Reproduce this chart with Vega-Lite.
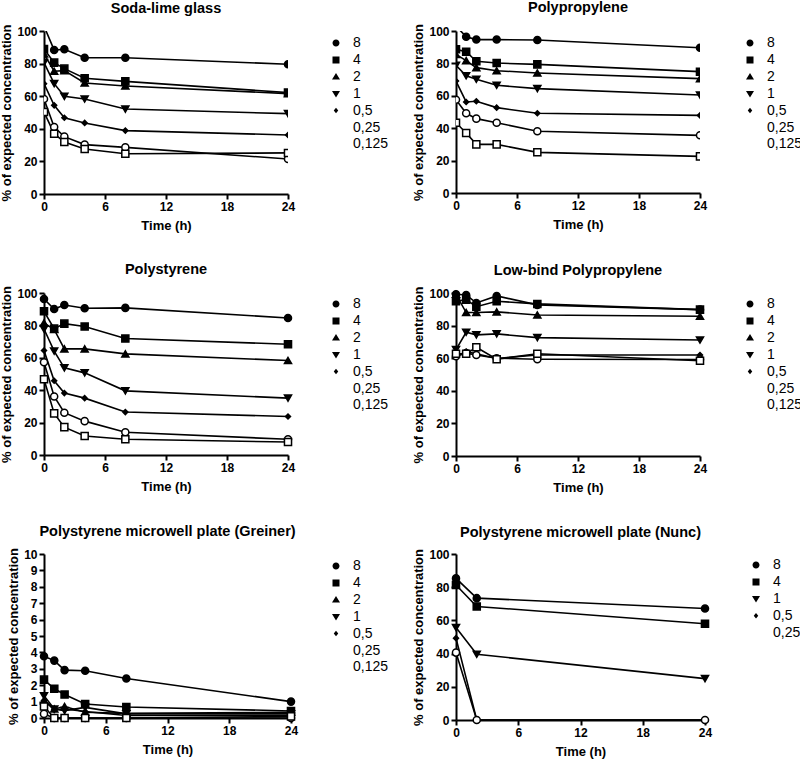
{
  "$schema": "https://vega.github.io/schema/vega-lite/v6.json",
  "padding": {"left": 0, "top": 0, "right": 5, "bottom": 5},
  "config": {
    "view": {"stroke": null},
    "font": "Liberation Sans",
    "axis": {"grid": false, "domainColor": "black", "domainWidth": 2, "tickColor": "black", "tickWidth": 2, "tickSize": 5, "labelFont": "Liberation Sans", "labelFontSize": 12, "labelFontWeight": "bold", "labelColor": "black", "labelFlush": false, "labelPadding": 2, "titleFont": "Liberation Sans", "titleFontSize": 13, "titleFontWeight": "bold", "titleColor": "black"},
    "axisY": {"titlePadding": 3},
    "axisX": {"titlePadding": 7},
    "title": {"font": "Liberation Sans", "fontSize": 14.5, "fontWeight": "bold", "color": "black", "anchor": "middle", "offset": 8},
    "legend": {"labelFont": "Liberation Sans", "labelFontSize": 14, "labelColor": "black", "rowPadding": 2.9, "labelOffset": 10, "symbolSize": 100, "padding": 0, "symbolStrokeWidth": 1.6, "symbolStrokeColor": "black"}
  },
  "data": {"values": [
    {"m":"Soda-lime glass","c":"8","t":0,"v":103},{"m":"Soda-lime glass","c":"8","t":1,"v":88.3},{"m":"Soda-lime glass","c":"8","t":2,"v":88.8},{"m":"Soda-lime glass","c":"8","t":4,"v":83.6},{"m":"Soda-lime glass","c":"8","t":8,"v":83.6},{"m":"Soda-lime glass","c":"8","t":24,"v":79.6},
    {"m":"Soda-lime glass","c":"4","t":0,"v":89},{"m":"Soda-lime glass","c":"4","t":1,"v":80.6},{"m":"Soda-lime glass","c":"4","t":2,"v":76.9},{"m":"Soda-lime glass","c":"4","t":4,"v":71},{"m":"Soda-lime glass","c":"4","t":8,"v":69.1},{"m":"Soda-lime glass","c":"4","t":24,"v":62.2},
    {"m":"Soda-lime glass","c":"2","t":0,"v":86},{"m":"Soda-lime glass","c":"2","t":1,"v":75.3},{"m":"Soda-lime glass","c":"2","t":2,"v":75.7},{"m":"Soda-lime glass","c":"2","t":4,"v":68.1},{"m":"Soda-lime glass","c":"2","t":8,"v":66.3},{"m":"Soda-lime glass","c":"2","t":24,"v":61.6},
    {"m":"Soda-lime glass","c":"1","t":0,"v":80.6},{"m":"Soda-lime glass","c":"1","t":1,"v":67.7},{"m":"Soda-lime glass","c":"1","t":2,"v":59.9},{"m":"Soda-lime glass","c":"1","t":4,"v":58.3},{"m":"Soda-lime glass","c":"1","t":8,"v":52.1},{"m":"Soda-lime glass","c":"1","t":24,"v":49.3},
    {"m":"Soda-lime glass","c":"0,5","t":0,"v":67.7},{"m":"Soda-lime glass","c":"0,5","t":1,"v":54.4},{"m":"Soda-lime glass","c":"0,5","t":2,"v":46.8},{"m":"Soda-lime glass","c":"0,5","t":4,"v":43.6},{"m":"Soda-lime glass","c":"0,5","t":8,"v":38.9},{"m":"Soda-lime glass","c":"0,5","t":24,"v":36.2},
    {"m":"Soda-lime glass","c":"0,25","t":0,"v":58.3},{"m":"Soda-lime glass","c":"0,25","t":1,"v":41.1},{"m":"Soda-lime glass","c":"0,25","t":2,"v":35.2},{"m":"Soda-lime glass","c":"0,25","t":4,"v":30.3},{"m":"Soda-lime glass","c":"0,25","t":8,"v":28.6},{"m":"Soda-lime glass","c":"0,25","t":24,"v":21.5},
    {"m":"Soda-lime glass","c":"0,125","t":0,"v":50.3},{"m":"Soda-lime glass","c":"0,125","t":1,"v":37},{"m":"Soda-lime glass","c":"0,125","t":2,"v":31.9},{"m":"Soda-lime glass","c":"0,125","t":4,"v":27.6},{"m":"Soda-lime glass","c":"0,125","t":8,"v":24.7},{"m":"Soda-lime glass","c":"0,125","t":24,"v":25.2},

    {"m":"Polypropylene","c":"8","t":0,"v":103},{"m":"Polypropylene","c":"8","t":1,"v":96.5},{"m":"Polypropylene","c":"8","t":2,"v":94.7},{"m":"Polypropylene","c":"8","t":4,"v":94.7},{"m":"Polypropylene","c":"8","t":8,"v":94.4},{"m":"Polypropylene","c":"8","t":24,"v":89.7},
    {"m":"Polypropylene","c":"4","t":0,"v":88.7},{"m":"Polypropylene","c":"4","t":1,"v":87.2},{"m":"Polypropylene","c":"4","t":2,"v":81.3},{"m":"Polypropylene","c":"4","t":4,"v":80.2},{"m":"Polypropylene","c":"4","t":8,"v":79.4},{"m":"Polypropylene","c":"4","t":24,"v":74.9},
    {"m":"Polypropylene","c":"2","t":0,"v":85.6},{"m":"Polypropylene","c":"2","t":1,"v":81.7},{"m":"Polypropylene","c":"2","t":2,"v":77.4},{"m":"Polypropylene","c":"2","t":4,"v":75.5},{"m":"Polypropylene","c":"2","t":8,"v":74.1},{"m":"Polypropylene","c":"2","t":24,"v":70.6},
    {"m":"Polypropylene","c":"1","t":0,"v":78.8},{"m":"Polypropylene","c":"1","t":1,"v":72.4},{"m":"Polypropylene","c":"1","t":2,"v":70.2},{"m":"Polypropylene","c":"1","t":4,"v":66.5},{"m":"Polypropylene","c":"1","t":8,"v":64.4},{"m":"Polypropylene","c":"1","t":24,"v":60.5},
    {"m":"Polypropylene","c":"0,5","t":0,"v":69.1},{"m":"Polypropylene","c":"0,5","t":1,"v":56.2},{"m":"Polypropylene","c":"0,5","t":2,"v":56.6},{"m":"Polypropylene","c":"0,5","t":4,"v":52.7},{"m":"Polypropylene","c":"0,5","t":8,"v":49.2},{"m":"Polypropylene","c":"0,5","t":24,"v":47.9},
    {"m":"Polypropylene","c":"0,25","t":0,"v":57.6},{"m":"Polypropylene","c":"0,25","t":1,"v":49.2},{"m":"Polypropylene","c":"0,25","t":2,"v":45.9},{"m":"Polypropylene","c":"0,25","t":4,"v":43.4},{"m":"Polypropylene","c":"0,25","t":8,"v":38.1},{"m":"Polypropylene","c":"0,25","t":24,"v":35.6},
    {"m":"Polypropylene","c":"0,125","t":0,"v":43.4},{"m":"Polypropylene","c":"0,125","t":1,"v":37},{"m":"Polypropylene","c":"0,125","t":2,"v":30},{"m":"Polypropylene","c":"0,125","t":4,"v":30},{"m":"Polypropylene","c":"0,125","t":8,"v":25.1},{"m":"Polypropylene","c":"0,125","t":24,"v":22.6},

    {"m":"Polystyrene","c":"8","t":0,"v":96.3},{"m":"Polystyrene","c":"8","t":1,"v":90.1},{"m":"Polystyrene","c":"8","t":2,"v":92.6},{"m":"Polystyrene","c":"8","t":4,"v":90.6},{"m":"Polystyrene","c":"8","t":8,"v":90.8},{"m":"Polystyrene","c":"8","t":24,"v":84.6},
    {"m":"Polystyrene","c":"4","t":0,"v":88.7},{"m":"Polystyrene","c":"4","t":1,"v":78},{"m":"Polystyrene","c":"4","t":2,"v":81.1},{"m":"Polystyrene","c":"4","t":4,"v":79.3},{"m":"Polystyrene","c":"4","t":8,"v":71.9},{"m":"Polystyrene","c":"4","t":24,"v":68.4},
    {"m":"Polystyrene","c":"2","t":0,"v":81.5},{"m":"Polystyrene","c":"2","t":1,"v":77.5},{"m":"Polystyrene","c":"2","t":2,"v":65.5},{"m":"Polystyrene","c":"2","t":4,"v":65.5},{"m":"Polystyrene","c":"2","t":8,"v":62.4},{"m":"Polystyrene","c":"2","t":24,"v":58.3},
    {"m":"Polystyrene","c":"1","t":0,"v":77.8},{"m":"Polystyrene","c":"1","t":1,"v":64.1},{"m":"Polystyrene","c":"1","t":2,"v":53.8},{"m":"Polystyrene","c":"1","t":4,"v":50.7},{"m":"Polystyrene","c":"1","t":8,"v":39.6},{"m":"Polystyrene","c":"1","t":24,"v":35.1},
    {"m":"Polystyrene","c":"0,5","t":0,"v":64.5},{"m":"Polystyrene","c":"0,5","t":1,"v":45.8},{"m":"Polystyrene","c":"0,5","t":2,"v":38.2},{"m":"Polystyrene","c":"0,5","t":4,"v":35.1},{"m":"Polystyrene","c":"0,5","t":8,"v":26.5},{"m":"Polystyrene","c":"0,5","t":24,"v":23.8},
    {"m":"Polystyrene","c":"0,25","t":0,"v":57.3},{"m":"Polystyrene","c":"0,25","t":1,"v":36.1},{"m":"Polystyrene","c":"0,25","t":2,"v":26.1},{"m":"Polystyrene","c":"0,25","t":4,"v":20.9},{"m":"Polystyrene","c":"0,25","t":8,"v":14},{"m":"Polystyrene","c":"0,25","t":24,"v":9.7},
    {"m":"Polystyrene","c":"0,125","t":0,"v":46.8},{"m":"Polystyrene","c":"0,125","t":1,"v":25.7},{"m":"Polystyrene","c":"0,125","t":2,"v":17.2},{"m":"Polystyrene","c":"0,125","t":4,"v":11.7},{"m":"Polystyrene","c":"0,125","t":8,"v":9.7},{"m":"Polystyrene","c":"0,125","t":24,"v":8},

    {"m":"Low-bind Polypropylene","c":"8","t":0,"v":99.2},{"m":"Low-bind Polypropylene","c":"8","t":1,"v":98.8},{"m":"Low-bind Polypropylene","c":"8","t":2,"v":93.9},{"m":"Low-bind Polypropylene","c":"8","t":4,"v":98.2},{"m":"Low-bind Polypropylene","c":"8","t":8,"v":92.7},{"m":"Low-bind Polypropylene","c":"8","t":24,"v":89.8},
    {"m":"Low-bind Polypropylene","c":"4","t":0,"v":94.9},{"m":"Low-bind Polypropylene","c":"4","t":1,"v":95.9},{"m":"Low-bind Polypropylene","c":"4","t":2,"v":91.6},{"m":"Low-bind Polypropylene","c":"4","t":4,"v":94.9},{"m":"Low-bind Polypropylene","c":"4","t":8,"v":93.3},{"m":"Low-bind Polypropylene","c":"4","t":24,"v":89.8},
    {"m":"Low-bind Polypropylene","c":"2","t":0,"v":99.2},{"m":"Low-bind Polypropylene","c":"2","t":1,"v":88},{"m":"Low-bind Polypropylene","c":"2","t":2,"v":88},{"m":"Low-bind Polypropylene","c":"2","t":4,"v":88.4},{"m":"Low-bind Polypropylene","c":"2","t":8,"v":86.5},{"m":"Low-bind Polypropylene","c":"2","t":24,"v":85.7},
    {"m":"Low-bind Polypropylene","c":"1","t":0,"v":65.3},{"m":"Low-bind Polypropylene","c":"1","t":1,"v":75.9},{"m":"Low-bind Polypropylene","c":"1","t":2,"v":74.3},{"m":"Low-bind Polypropylene","c":"1","t":4,"v":74.9},{"m":"Low-bind Polypropylene","c":"1","t":8,"v":72.6},{"m":"Low-bind Polypropylene","c":"1","t":24,"v":71.2},
    {"m":"Low-bind Polypropylene","c":"0,5","t":0,"v":61},{"m":"Low-bind Polypropylene","c":"0,5","t":1,"v":64.1},{"m":"Low-bind Polypropylene","c":"0,5","t":2,"v":62.7},{"m":"Low-bind Polypropylene","c":"0,5","t":4,"v":59.8},{"m":"Low-bind Polypropylene","c":"0,5","t":8,"v":62},{"m":"Low-bind Polypropylene","c":"0,5","t":24,"v":62},
    {"m":"Low-bind Polypropylene","c":"0,25","t":0,"v":61.2},{"m":"Low-bind Polypropylene","c":"0,25","t":1,"v":63.1},{"m":"Low-bind Polypropylene","c":"0,25","t":2,"v":62},{"m":"Low-bind Polypropylene","c":"0,25","t":4,"v":60},{"m":"Low-bind Polypropylene","c":"0,25","t":8,"v":59.4},{"m":"Low-bind Polypropylene","c":"0,25","t":24,"v":59.2},
    {"m":"Low-bind Polypropylene","c":"0,125","t":0,"v":62.7},{"m":"Low-bind Polypropylene","c":"0,125","t":1,"v":62.7},{"m":"Low-bind Polypropylene","c":"0,125","t":2,"v":66.7},{"m":"Low-bind Polypropylene","c":"0,125","t":4,"v":59.4},{"m":"Low-bind Polypropylene","c":"0,125","t":8,"v":62.7},{"m":"Low-bind Polypropylene","c":"0,125","t":24,"v":58.4},

    {"m":"Greiner","c":"8","t":0,"v":3.77},{"m":"Greiner","c":"8","t":1,"v":3.5},{"m":"Greiner","c":"8","t":2,"v":2.92},{"m":"Greiner","c":"8","t":4,"v":2.88},{"m":"Greiner","c":"8","t":8,"v":2.41},{"m":"Greiner","c":"8","t":24,"v":1.0},
    {"m":"Greiner","c":"4","t":0,"v":2.34},{"m":"Greiner","c":"4","t":1,"v":1.78},{"m":"Greiner","c":"4","t":2,"v":1.43},{"m":"Greiner","c":"4","t":4,"v":0.85},{"m":"Greiner","c":"4","t":8,"v":0.67},{"m":"Greiner","c":"4","t":24,"v":0.43},
    {"m":"Greiner","c":"2","t":0,"v":1.06},{"m":"Greiner","c":"2","t":1,"v":0.55},{"m":"Greiner","c":"2","t":2,"v":0.7},{"m":"Greiner","c":"2","t":4,"v":0.35},{"m":"Greiner","c":"2","t":8,"v":0.28},{"m":"Greiner","c":"2","t":24,"v":0.35},
    {"m":"Greiner","c":"1","t":0,"v":1.36},{"m":"Greiner","c":"1","t":1,"v":0.55},{"m":"Greiner","c":"1","t":2,"v":0.45},{"m":"Greiner","c":"1","t":4,"v":0.65},{"m":"Greiner","c":"1","t":8,"v":0.25},{"m":"Greiner","c":"1","t":24,"v":0.25},
    {"m":"Greiner","c":"0,5","t":0,"v":1.06},{"m":"Greiner","c":"0,5","t":1,"v":0.5},{"m":"Greiner","c":"0,5","t":2,"v":0.55},{"m":"Greiner","c":"0,5","t":4,"v":0.4},{"m":"Greiner","c":"0,5","t":8,"v":0.15},{"m":"Greiner","c":"0,5","t":24,"v":0.15},
    {"m":"Greiner","c":"0,25","t":0,"v":0.25},{"m":"Greiner","c":"0,25","t":1,"v":0},{"m":"Greiner","c":"0,25","t":2,"v":0},{"m":"Greiner","c":"0,25","t":4,"v":0},{"m":"Greiner","c":"0,25","t":8,"v":0},{"m":"Greiner","c":"0,25","t":24,"v":0},
    {"m":"Greiner","c":"0,125","t":0,"v":0.7},{"m":"Greiner","c":"0,125","t":1,"v":0},{"m":"Greiner","c":"0,125","t":2,"v":0},{"m":"Greiner","c":"0,125","t":4,"v":0},{"m":"Greiner","c":"0,125","t":8,"v":0},{"m":"Greiner","c":"0,125","t":24,"v":0.1},

    {"m":"Nunc","c":"8","t":0,"v":85.3},{"m":"Nunc","c":"8","t":2,"v":73.4},{"m":"Nunc","c":"8","t":24,"v":67.2},
    {"m":"Nunc","c":"4","t":0,"v":81.3},{"m":"Nunc","c":"4","t":2,"v":68.4},{"m":"Nunc","c":"4","t":24,"v":58},
    {"m":"Nunc","c":"1","t":0,"v":55.7},{"m":"Nunc","c":"1","t":2,"v":39.6},{"m":"Nunc","c":"1","t":24,"v":24.9},
    {"m":"Nunc","c":"0,5","t":0,"v":49.3},{"m":"Nunc","c":"0,5","t":2,"v":0},{"m":"Nunc","c":"0,5","t":24,"v":0},
    {"m":"Nunc","c":"0,25","t":0,"v":40.6},{"m":"Nunc","c":"0,25","t":2,"v":0},{"m":"Nunc","c":"0,25","t":24,"v":0}
  ]},
  "columns": 2,
  "spacing": {"row": 30, "column": 23},
  "resolve": {"scale": {"x": "independent", "y": "independent", "fill": "independent", "shape": "independent"}, "legend": {"fill": "independent", "shape": "independent"}},
  "concat": [
    {
      "title": "Soda-lime glass", "width": 244, "height": 163,
      "transform": [{"filter": "datum.m === 'Soda-lime glass'"}],
      "encoding": {
        "x": {"field": "t", "type": "quantitative", "scale": {"domain": [0, 24], "nice": false}, "axis": {"values": [0, 6, 12, 18, 24], "title": "Time (h)"}},
        "y": {"field": "v", "type": "quantitative", "scale": {"domain": [0, 100], "nice": false}, "axis": {"values": [0, 20, 40, 60, 80, 100], "title": "% of expected concentration"}}
      },
      "layer": [
        {"mark": {"type": "line", "color": "black", "strokeWidth": 1.6, "clip": true}, "encoding": {"detail": {"field": "c", "type": "nominal"}}},
        {"mark": {"type": "point", "filled": true, "stroke": "black", "strokeWidth": 1.5, "opacity": 1, "clip": true},
         "encoding": {
           "fill": {"condition": {"test": "datum.c === '0,25' || datum.c === '0,125'", "value": "white"}, "value": "black"},
           "shape": {"condition": [{"test": "datum.c === '4' || datum.c === '0,125'", "value": "square"}, {"test": "datum.c === '2'", "value": "triangle-up"}, {"test": "datum.c === '1'", "value": "triangle-down"}, {"test": "datum.c === '0,5'", "value": "diamond"}], "value": "circle"},
           "size": {"condition": {"test": "datum.c === '0,5'", "value": 25}, "value": 50}
         }},
        {"transform": [{"filter": "datum.t < 0"}],
         "mark": {"type": "point", "filled": true, "stroke": "black", "strokeWidth": 1.5, "opacity": 1},
         "encoding": {
           "fill": {"field": "c", "type": "nominal", "scale": {"domain": ["8","4","2","1","0,5","0,25","0,125"], "range": ["black","black","black","black","black","white","white"]}, "legend": {"title": null, "orient": "none", "legendX": 285, "legendY": 5, "encode": {"symbols": {"stroke": {"value": "black"}, "strokeWidth": {"value": 1.6}}}}},
           "shape": {"field": "c", "type": "nominal", "scale": {"domain": ["8","4","2","1","0,5","0,25","0,125"], "range": ["M-2,0H2M-0.7,0A0.7,0.7 0 1,0 0.7,0A0.7,0.7 0 1,0 -0.7,0Z", "M-2,0H2M-0.7,-0.7H0.7V0.7H-0.7Z", "M-2,0H2M0,-0.75L0.8,0.55H-0.8Z", "M-2,0H2M0,0.75L0.8,-0.55H-0.8Z", "M-2,0H2M0,-0.55L0.45,0L0,0.55L-0.45,0Z", "M-2,0H2M-0.75,0A0.75,0.75 0 1,0 0.75,0A0.75,0.75 0 1,0 -0.75,0Z", "M-2,0H2M-0.7,-0.7H0.7V0.7H-0.7Z"]}, "legend": {"title": null, "orient": "none", "legendX": 285, "legendY": 5, "encode": {"symbols": {"stroke": {"value": "black"}, "strokeWidth": {"value": 1.6}}}}}
         }}
      ]
    },
    {
      "title": "Polypropylene", "width": 244, "height": 162,
      "transform": [{"filter": "datum.m === 'Polypropylene'"}],
      "encoding": {
        "x": {"field": "t", "type": "quantitative", "scale": {"domain": [0, 24], "nice": false}, "axis": {"values": [0, 6, 12, 18, 24], "title": "Time (h)"}},
        "y": {"field": "v", "type": "quantitative", "scale": {"domain": [0, 100], "nice": false}, "axis": {"values": [0, 20, 40, 60, 80, 100], "title": "% of expected concentration"}}
      },
      "layer": [
        {"mark": {"type": "line", "color": "black", "strokeWidth": 1.6, "clip": true}, "encoding": {"detail": {"field": "c", "type": "nominal"}}},
        {"mark": {"type": "point", "filled": true, "stroke": "black", "strokeWidth": 1.5, "opacity": 1, "clip": true},
         "encoding": {
           "fill": {"condition": {"test": "datum.c === '0,25' || datum.c === '0,125'", "value": "white"}, "value": "black"},
           "shape": {"condition": [{"test": "datum.c === '4' || datum.c === '0,125'", "value": "square"}, {"test": "datum.c === '2'", "value": "triangle-up"}, {"test": "datum.c === '1'", "value": "triangle-down"}, {"test": "datum.c === '0,5'", "value": "diamond"}], "value": "circle"},
           "size": {"condition": {"test": "datum.c === '0,5'", "value": 25}, "value": 50}
         }},
        {"transform": [{"filter": "datum.t < 0"}],
         "mark": {"type": "point", "filled": true, "stroke": "black", "strokeWidth": 1.5, "opacity": 1},
         "encoding": {
           "fill": {"field": "c", "type": "nominal", "scale": {"domain": ["8","4","2","1","0,5","0,25","0,125"], "range": ["black","black","black","black","black","white","white"]}, "legend": {"title": null, "orient": "none", "legendX": 287, "legendY": 5, "encode": {"symbols": {"stroke": {"value": "black"}, "strokeWidth": {"value": 1.6}}}}},
           "shape": {"field": "c", "type": "nominal", "scale": {"domain": ["8","4","2","1","0,5","0,25","0,125"], "range": ["M-2,0H2M-0.7,0A0.7,0.7 0 1,0 0.7,0A0.7,0.7 0 1,0 -0.7,0Z", "M-2,0H2M-0.7,-0.7H0.7V0.7H-0.7Z", "M-2,0H2M0,-0.75L0.8,0.55H-0.8Z", "M-2,0H2M0,0.75L0.8,-0.55H-0.8Z", "M-2,0H2M0,-0.55L0.45,0L0,0.55L-0.45,0Z", "M-2,0H2M-0.75,0A0.75,0.75 0 1,0 0.75,0A0.75,0.75 0 1,0 -0.75,0Z", "M-2,0H2M-0.7,-0.7H0.7V0.7H-0.7Z"]}, "legend": {"title": null, "orient": "none", "legendX": 287, "legendY": 5, "encode": {"symbols": {"stroke": {"value": "black"}, "strokeWidth": {"value": 1.6}}}}}
         }}
      ]
    },
    {
      "title": "Polystyrene", "width": 244, "height": 162,
      "transform": [{"filter": "datum.m === 'Polystyrene'"}],
      "encoding": {
        "x": {"field": "t", "type": "quantitative", "scale": {"domain": [0, 24], "nice": false}, "axis": {"values": [0, 6, 12, 18, 24], "title": "Time (h)"}},
        "y": {"field": "v", "type": "quantitative", "scale": {"domain": [0, 100], "nice": false}, "axis": {"values": [0, 20, 40, 60, 80, 100], "title": "% of expected concentration"}}
      },
      "layer": [
        {"mark": {"type": "line", "color": "black", "strokeWidth": 1.6}, "encoding": {"detail": {"field": "c", "type": "nominal"}}},
        {"mark": {"type": "point", "filled": true, "stroke": "black", "strokeWidth": 1.5, "opacity": 1},
         "encoding": {
           "fill": {"condition": {"test": "datum.c === '0,25' || datum.c === '0,125'", "value": "white"}, "value": "black"},
           "shape": {"condition": [{"test": "datum.c === '4' || datum.c === '0,125'", "value": "square"}, {"test": "datum.c === '2'", "value": "triangle-up"}, {"test": "datum.c === '1'", "value": "triangle-down"}, {"test": "datum.c === '0,5'", "value": "diamond"}], "value": "circle"},
           "size": {"condition": {"test": "datum.c === '0,5'", "value": 25}, "value": 50}
         }},
        {"transform": [{"filter": "datum.t < 0"}],
         "mark": {"type": "point", "filled": true, "stroke": "black", "strokeWidth": 1.5, "opacity": 1},
         "encoding": {
           "fill": {"field": "c", "type": "nominal", "scale": {"domain": ["8","4","2","1","0,5","0,25","0,125"], "range": ["black","black","black","black","black","white","white"]}, "legend": {"title": null, "orient": "none", "legendX": 285, "legendY": 4, "encode": {"symbols": {"stroke": {"value": "black"}, "strokeWidth": {"value": 1.6}}}}},
           "shape": {"field": "c", "type": "nominal", "scale": {"domain": ["8","4","2","1","0,5","0,25","0,125"], "range": ["M-2,0H2M-0.7,0A0.7,0.7 0 1,0 0.7,0A0.7,0.7 0 1,0 -0.7,0Z", "M-2,0H2M-0.7,-0.7H0.7V0.7H-0.7Z", "M-2,0H2M0,-0.75L0.8,0.55H-0.8Z", "M-2,0H2M0,0.75L0.8,-0.55H-0.8Z", "M-2,0H2M0,-0.55L0.45,0L0,0.55L-0.45,0Z", "M-2,0H2M-0.75,0A0.75,0.75 0 1,0 0.75,0A0.75,0.75 0 1,0 -0.75,0Z", "M-2,0H2M-0.7,-0.7H0.7V0.7H-0.7Z"]}, "legend": {"title": null, "orient": "none", "legendX": 285, "legendY": 4, "encode": {"symbols": {"stroke": {"value": "black"}, "strokeWidth": {"value": 1.6}}}}}
         }}
      ]
    },
    {
      "title": "Low-bind Polypropylene", "width": 244, "height": 163,
      "transform": [{"filter": "datum.m === 'Low-bind Polypropylene'"}],
      "encoding": {
        "x": {"field": "t", "type": "quantitative", "scale": {"domain": [0, 24], "nice": false}, "axis": {"values": [0, 6, 12, 18, 24], "title": "Time (h)"}},
        "y": {"field": "v", "type": "quantitative", "scale": {"domain": [0, 100], "nice": false}, "axis": {"values": [0, 20, 40, 60, 80, 100], "title": "% of expected concentration"}}
      },
      "layer": [
        {"mark": {"type": "line", "color": "black", "strokeWidth": 1.6}, "encoding": {"detail": {"field": "c", "type": "nominal"}}},
        {"mark": {"type": "point", "filled": true, "stroke": "black", "strokeWidth": 1.5, "opacity": 1},
         "encoding": {
           "fill": {"condition": {"test": "datum.c === '0,25' || datum.c === '0,125'", "value": "white"}, "value": "black"},
           "shape": {"condition": [{"test": "datum.c === '4' || datum.c === '0,125'", "value": "square"}, {"test": "datum.c === '2'", "value": "triangle-up"}, {"test": "datum.c === '1'", "value": "triangle-down"}, {"test": "datum.c === '0,5'", "value": "diamond"}], "value": "circle"},
           "size": {"condition": {"test": "datum.c === '0,5'", "value": 25}, "value": 50}
         }},
        {"transform": [{"filter": "datum.t < 0"}],
         "mark": {"type": "point", "filled": true, "stroke": "black", "strokeWidth": 1.5, "opacity": 1},
         "encoding": {
           "fill": {"field": "c", "type": "nominal", "scale": {"domain": ["8","4","2","1","0,5","0,25","0,125"], "range": ["black","black","black","black","black","white","white"]}, "legend": {"title": null, "orient": "none", "legendX": 287, "legendY": 4, "encode": {"symbols": {"stroke": {"value": "black"}, "strokeWidth": {"value": 1.6}}}}},
           "shape": {"field": "c", "type": "nominal", "scale": {"domain": ["8","4","2","1","0,5","0,25","0,125"], "range": ["M-2,0H2M-0.7,0A0.7,0.7 0 1,0 0.7,0A0.7,0.7 0 1,0 -0.7,0Z", "M-2,0H2M-0.7,-0.7H0.7V0.7H-0.7Z", "M-2,0H2M0,-0.75L0.8,0.55H-0.8Z", "M-2,0H2M0,0.75L0.8,-0.55H-0.8Z", "M-2,0H2M0,-0.55L0.45,0L0,0.55L-0.45,0Z", "M-2,0H2M-0.75,0A0.75,0.75 0 1,0 0.75,0A0.75,0.75 0 1,0 -0.75,0Z", "M-2,0H2M-0.7,-0.7H0.7V0.7H-0.7Z"]}, "legend": {"title": null, "orient": "none", "legendX": 287, "legendY": 4, "encode": {"symbols": {"stroke": {"value": "black"}, "strokeWidth": {"value": 1.6}}}}}
         }}
      ]
    },
    {
      "title": "Polystyrene microwell plate (Greiner)", "width": 247, "height": 164,
      "transform": [{"filter": "datum.m === 'Greiner'"}],
      "encoding": {
        "x": {"field": "t", "type": "quantitative", "scale": {"domain": [0, 24], "nice": false}, "axis": {"values": [0, 6, 12, 18, 24], "title": "Time (h)"}},
        "y": {"field": "v", "type": "quantitative", "scale": {"domain": [0, 10], "nice": false}, "axis": {"values": [0, 1, 2, 3, 4, 5, 6, 7, 8, 9, 10], "title": "% of expected concentration"}}
      },
      "layer": [
        {"mark": {"type": "line", "color": "black", "strokeWidth": 1.6}, "encoding": {"detail": {"field": "c", "type": "nominal"}}},
        {"mark": {"type": "point", "filled": true, "stroke": "black", "strokeWidth": 1.5, "opacity": 1},
         "encoding": {
           "fill": {"condition": {"test": "datum.c === '0,25' || datum.c === '0,125'", "value": "white"}, "value": "black"},
           "shape": {"condition": [{"test": "datum.c === '4' || datum.c === '0,125'", "value": "square"}, {"test": "datum.c === '2'", "value": "triangle-up"}, {"test": "datum.c === '1'", "value": "triangle-down"}, {"test": "datum.c === '0,5'", "value": "diamond"}], "value": "circle"},
           "size": {"condition": {"test": "datum.c === '0,5'", "value": 25}, "value": 50}
         }},
        {"transform": [{"filter": "datum.t < 0"}],
         "mark": {"type": "point", "filled": true, "stroke": "black", "strokeWidth": 1.5, "opacity": 1},
         "encoding": {
           "fill": {"field": "c", "type": "nominal", "scale": {"domain": ["8","4","2","1","0,5","0,25","0,125"], "range": ["black","black","black","black","black","white","white"]}, "legend": {"title": null, "orient": "none", "legendX": 285, "legendY": 5, "encode": {"symbols": {"stroke": {"value": "black"}, "strokeWidth": {"value": 1.6}}}}},
           "shape": {"field": "c", "type": "nominal", "scale": {"domain": ["8","4","2","1","0,5","0,25","0,125"], "range": ["M-2,0H2M-0.7,0A0.7,0.7 0 1,0 0.7,0A0.7,0.7 0 1,0 -0.7,0Z", "M-2,0H2M-0.7,-0.7H0.7V0.7H-0.7Z", "M-2,0H2M0,-0.75L0.8,0.55H-0.8Z", "M-2,0H2M0,0.75L0.8,-0.55H-0.8Z", "M-2,0H2M0,-0.55L0.45,0L0,0.55L-0.45,0Z", "M-2,0H2M-0.75,0A0.75,0.75 0 1,0 0.75,0A0.75,0.75 0 1,0 -0.75,0Z", "M-2,0H2M-0.7,-0.7H0.7V0.7H-0.7Z"]}, "legend": {"title": null, "orient": "none", "legendX": 285, "legendY": 5, "encode": {"symbols": {"stroke": {"value": "black"}, "strokeWidth": {"value": 1.6}}}}}
         }}
      ]
    },
    {
      "title": "Polystyrene microwell plate (Nunc)", "width": 249, "height": 166,
      "transform": [{"filter": "datum.m === 'Nunc'"}],
      "encoding": {
        "x": {"field": "t", "type": "quantitative", "scale": {"domain": [0, 24], "nice": false}, "axis": {"values": [0, 6, 12, 18, 24], "title": "Time (h)"}},
        "y": {"field": "v", "type": "quantitative", "scale": {"domain": [0, 100], "nice": false}, "axis": {"values": [0, 20, 40, 60, 80, 100], "title": "% of expected concentration"}}
      },
      "layer": [
        {"mark": {"type": "line", "color": "black", "strokeWidth": 1.6}, "encoding": {"detail": {"field": "c", "type": "nominal"}}},
        {"mark": {"type": "point", "filled": true, "stroke": "black", "strokeWidth": 1.5, "opacity": 1},
         "encoding": {
           "fill": {"condition": {"test": "datum.c === '0,25'", "value": "white"}, "value": "black"},
           "shape": {"condition": [{"test": "datum.c === '4'", "value": "square"}, {"test": "datum.c === '1'", "value": "triangle-down"}, {"test": "datum.c === '0,5'", "value": "diamond"}], "value": "circle"},
           "size": {"condition": {"test": "datum.c === '0,5'", "value": 25}, "value": 50}
         }},
        {"transform": [{"filter": "datum.t < 0"}],
         "mark": {"type": "point", "filled": true, "stroke": "black", "strokeWidth": 1.5, "opacity": 1},
         "encoding": {
           "fill": {"field": "c", "type": "nominal", "scale": {"domain": ["8","4","1","0,5","0,25"], "range": ["black","black","black","black","white"]}, "legend": {"title": null, "orient": "none", "legendX": 293, "legendY": 4, "encode": {"symbols": {"stroke": {"value": "black"}, "strokeWidth": {"value": 1.6}}}}},
           "shape": {"field": "c", "type": "nominal", "scale": {"domain": ["8","4","1","0,5","0,25"], "range": ["M-2,0H2M-0.7,0A0.7,0.7 0 1,0 0.7,0A0.7,0.7 0 1,0 -0.7,0Z", "M-2,0H2M-0.7,-0.7H0.7V0.7H-0.7Z", "M-2,0H2M0,0.75L0.8,-0.55H-0.8Z", "M-2,0H2M0,-0.55L0.45,0L0,0.55L-0.45,0Z", "M-2,0H2M-0.75,0A0.75,0.75 0 1,0 0.75,0A0.75,0.75 0 1,0 -0.75,0Z"]}, "legend": {"title": null, "orient": "none", "legendX": 293, "legendY": 4, "encode": {"symbols": {"stroke": {"value": "black"}, "strokeWidth": {"value": 1.6}}}}}
         }}
      ]
    }
  ]
}
